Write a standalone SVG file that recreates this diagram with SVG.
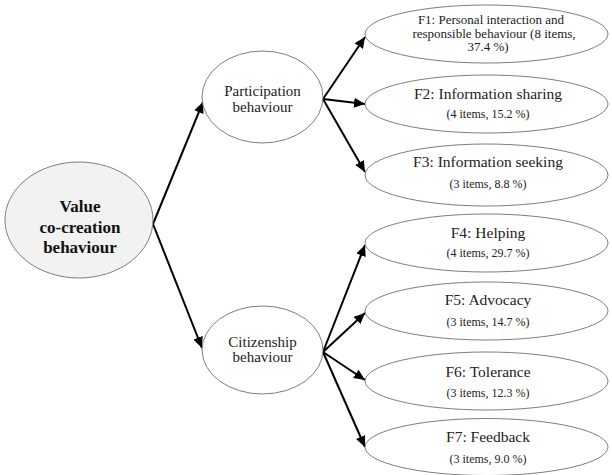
<svg xmlns="http://www.w3.org/2000/svg" width="612" height="475" viewBox="0 0 612 475">
<style>
  .node { fill: #ffffff; stroke: #6e6e6e; stroke-width: 0.9; }
  .root { fill: #f2f2f2; stroke: #6e6e6e; stroke-width: 0.9; }
  text { font-family: "Liberation Serif", "DejaVu Serif", serif; fill: #222; text-anchor: middle; }
  .bold { font-weight: bold; font-size: 17px; fill: #111; }
  .mid { font-size: 15px; }
  .title { font-size: 15.5px; }
  .f1 { font-size: 13px; }
  .cnt { font-size: 12px; }
  .edge { stroke: #000; stroke-width: 2; fill: none; marker-end: url(#ah); }
</style>
<defs>
  <marker id="ah" markerWidth="12" markerHeight="10" refX="11" refY="5" orient="auto" markerUnits="userSpaceOnUse">
    <path d="M0,0 L11,5 L0,10 z" fill="#000"/>
  </marker>
</defs>
<rect width="612" height="475" fill="#ffffff"/>
<g id="connectors">
  <line class="edge" x1="153" y1="224" x2="203" y2="102"/>
  <line class="edge" x1="153" y1="224" x2="202" y2="348"/>
  <line class="edge" x1="323" y1="99" x2="365" y2="37"/>
  <line class="edge" x1="323" y1="99" x2="365" y2="104"/>
  <line class="edge" x1="323" y1="99" x2="365" y2="172"/>
  <line class="edge" x1="323" y1="352" x2="365" y2="245"/>
  <line class="edge" x1="323" y1="352" x2="365" y2="313"/>
  <line class="edge" x1="323" y1="352" x2="365" y2="380"/>
  <line class="edge" x1="323" y1="352" x2="365" y2="447"/>
</g>
<g id="value">
  <ellipse class="root" cx="79" cy="220" rx="74" ry="58"/>
  <text class="bold" x="80" y="212">Value</text>
  <text class="bold" x="80" y="233">co-creation</text>
  <text class="bold" x="80" y="253">behaviour</text>
</g>
<g id="participation">
  <ellipse class="node" cx="262.5" cy="97" rx="60.5" ry="46"/>
  <text class="mid" x="262.5" y="96">Participation</text>
  <text class="mid" x="262.5" y="112">behaviour</text>
</g>
<g id="citizenship">
  <ellipse class="node" cx="262.5" cy="350" rx="60.5" ry="44"/>
  <text class="mid" x="262.5" y="347">Citizenship</text>
  <text class="mid" x="262.5" y="362">behaviour</text>
</g>
<g id="f1">
  <ellipse class="node" cx="486.5" cy="34" rx="121.5" ry="29"/>
  <text class="f1" x="491" y="24">F1: Personal interaction and</text>
  <text class="f1" x="494" y="37.5">responsible behaviour (8 items,</text>
  <text class="f1" x="488" y="51">37.4 %)</text>
</g>
<g id="f2">
  <ellipse class="node" cx="486.5" cy="104" rx="121.5" ry="29"/>
  <text class="title" x="488" y="99">F2: Information sharing</text>
  <text class="cnt" x="488" y="118">(4 items, 15.2 %)</text>
</g>
<g id="f3">
  <ellipse class="node" cx="486.5" cy="175" rx="121.5" ry="31"/>
  <text class="title" x="488" y="167">F3: Information seeking</text>
  <text class="cnt" x="488" y="188">(3 items, 8.8 %)</text>
</g>
<g id="f4">
  <ellipse class="node" cx="486.5" cy="243" rx="121.5" ry="29"/>
  <text class="title" x="488" y="238">F4: Helping</text>
  <text class="cnt" x="488" y="257">(4 items, 29.7 %)</text>
</g>
<g id="f5">
  <ellipse class="node" cx="486.5" cy="311" rx="121.5" ry="29"/>
  <text class="title" x="488" y="305">F5: Advocacy</text>
  <text class="cnt" x="488" y="326">(3 items, 14.7 %)</text>
</g>
<g id="f6">
  <ellipse class="node" cx="486.5" cy="381" rx="121.5" ry="29"/>
  <text class="title" x="488" y="377">F6: Tolerance</text>
  <text class="cnt" x="488" y="397">(3 items, 12.3 %)</text>
</g>
<g id="f7">
  <ellipse class="node" cx="486.5" cy="447" rx="121.5" ry="28.5"/>
  <text class="title" x="488" y="442">F7: Feedback</text>
  <text class="cnt" x="488" y="463">(3 items, 9.0 %)</text>
</g>
</svg>
